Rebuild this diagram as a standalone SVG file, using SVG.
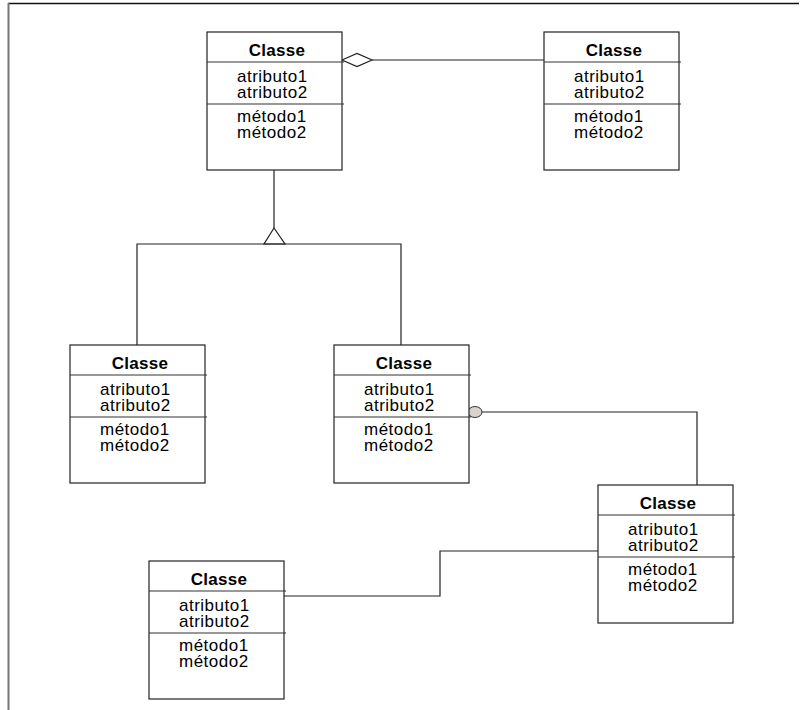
<svg xmlns="http://www.w3.org/2000/svg" width="809" height="710" viewBox="0 0 809 710">
  <style>
    .box { fill: #ffffff; stroke: #222222; stroke-width: 1.2; }
    .sep { stroke: #333333; stroke-width: 1.2; }
    .title { font-family: "Liberation Sans", Arial, sans-serif; font-size: 17px; font-weight: bold; fill: #000; text-anchor: middle; letter-spacing: 0.3px; }
    .item { font-family: "Liberation Sans", Arial, sans-serif; font-size: 17px; fill: #000; letter-spacing: 0.5px; }
    .wire { fill: none; stroke: #222222; stroke-width: 1.2; }
  </style>
  <defs>
    <!-- one UML class: name, attributes, methods -->
    <g id="uml-class">
      <rect class="box" x="0" y="0" width="135" height="138"/>
      <line class="sep" x1="0" y1="30" x2="137" y2="30"/>
      <line class="sep" x1="0" y1="72" x2="137" y2="72"/>
      <text class="title" x="70" y="24">Classe</text>
      <text class="item" x="30" y="50">atributo1</text>
      <text class="item" x="30" y="66">atributo2</text>
      <text class="item" x="30" y="90">método1</text>
      <text class="item" x="30" y="106">método2</text>
    </g>
  </defs>

  <rect x="0" y="0" width="809" height="710" fill="#ffffff"/>

  <!-- page frame -->
  <line x1="8" y1="3.5" x2="799" y2="3.5" stroke="#111" stroke-width="1.5"/>
  <line x1="8.5" y1="3" x2="8.5" y2="710" stroke="#777" stroke-width="2"/>

  <g id="connectors">
    <!-- aggregation -->
    <line class="wire" x1="372" y1="60" x2="544" y2="60"/>
    <polygon class="wire" points="342,60 357,53.5 372,60 357,66.5" style="fill:#fff"/>
    <!-- generalisation -->
    <line class="wire" x1="274" y1="169" x2="274" y2="228"/>
    <polygon class="wire" points="274,228 264,244 285,244" style="fill:#fff"/>
    <polyline class="wire" points="137,345 137,244 401,244 401,345"/>
    <!-- association with grey end -->
    <polyline class="wire" points="482,412 697,412 697,485"/>
    <ellipse cx="475" cy="412" rx="7" ry="5.5" fill="#d8d3ce" stroke="#333" stroke-width="1"/>
    <!-- plain association -->
    <polyline class="wire" points="283,596 440,596 440,551 598,551"/>
  </g>

  <g id="class-1" transform="translate(207,32)"><use href="#uml-class"/></g>
  <g id="class-2" transform="translate(544,32)"><use href="#uml-class"/></g>
  <g id="class-3" transform="translate(70,345)"><use href="#uml-class"/></g>
  <g id="class-4" transform="translate(334,345)"><use href="#uml-class"/></g>
  <g id="class-5" transform="translate(598,485)"><use href="#uml-class"/></g>
  <g id="class-6" transform="translate(149,561)"><use href="#uml-class"/></g>
</svg>
